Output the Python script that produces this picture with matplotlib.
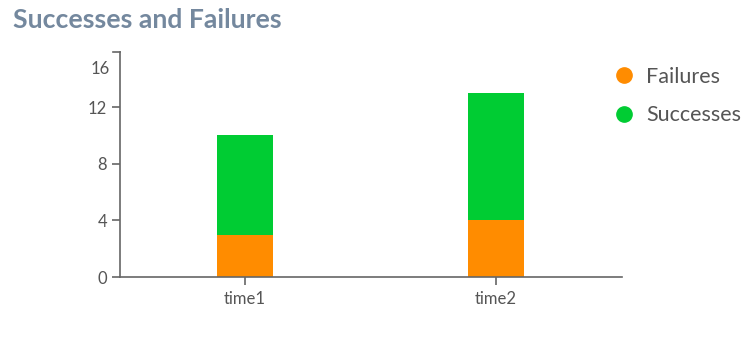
import matplotlib
matplotlib.use("Agg")
import matplotlib.pyplot as plt
from matplotlib.lines import Line2D

categories = ["time1", "time2"]
failures = [3, 4]
successes = [7, 9]
y_ticks = [0, 4, 8, 12]

FAIL_COLOR = "#FF8C00"
SUCC_COLOR = "#00CC33"
TEXT_COLOR = "#555555"
AXIS_COLOR = "#666666"

plt.rcParams["font.family"] = ["Lato", "DejaVu Sans"]

W, H = 753, 337
fig = plt.figure(figsize=(W / 100, H / 100), dpi=100)
fig.patch.set_facecolor("white")

# axes placed in pixel coordinates
left, right, top, bottom = 119.5, 621.5, 52, 277
ax = fig.add_axes([left / W, 1 - bottom / H, (right - left) / W, (bottom - top) / H])

x = list(range(len(categories)))
bw = 0.223
ax.bar(x, failures, width=bw, color=FAIL_COLOR, linewidth=0, zorder=2)
ax.bar(x, successes, width=bw, bottom=failures, color=SUCC_COLOR, linewidth=0, zorder=2)

ax.set_xlim(-0.5, len(categories) - 0.5)
ax.set_ylim(0, 15.9)
ax.set_xticks(x)
ax.set_xticklabels(categories)
ax.set_yticks(y_ticks)
ax.set_yticklabels([str(v) for v in y_ticks])

for s in ["top", "right"]:
    ax.spines[s].set_visible(False)
for s in ["left", "bottom"]:
    ax.spines[s].set_color(AXIS_COLOR)
    ax.spines[s].set_linewidth(1.2)
ax.tick_params(axis="both", colors=AXIS_COLOR, labelcolor=TEXT_COLOR,
               labelsize=12, length=6, width=1.2)
ax.tick_params(axis="x", pad=4)
ax.tick_params(axis="y", pad=3)

# top label of the value axis and the outer tick at the end of the domain
ax.text(-0.02, 14.7, "16", transform=ax.get_yaxis_transform(), ha="right",
        va="center", fontsize=12, color=TEXT_COLOR)
ax.plot([-0.012, 0], [15.9, 15.9], transform=ax.get_yaxis_transform(),
        color=AXIS_COLOR, lw=1.2, clip_on=False)

fig.text(13 / W, 1 - 20 / H, "Successes and Failures", fontsize=19.2, fontweight="bold",
         color="#74889E", ha="left", va="center")

handles = [
    Line2D([], [], marker="o", linestyle="none", markersize=11,
           markerfacecolor=FAIL_COLOR, markeredgecolor=FAIL_COLOR, label="Failures"),
    Line2D([], [], marker="o", linestyle="none", markersize=11,
           markerfacecolor=SUCC_COLOR, markeredgecolor=SUCC_COLOR, label="Successes"),
]
leg = fig.legend(handles=handles, loc="upper left", bbox_to_anchor=(612 / W, 1 - 67 / H),
                 frameon=False, fontsize=15.5, handletextpad=0.5, labelspacing=0.85,
                 handlelength=1.1, borderaxespad=0, borderpad=0)
for t in leg.get_texts():
    t.set_color(TEXT_COLOR)

fig.savefig("out.png", dpi=100, facecolor="white")
